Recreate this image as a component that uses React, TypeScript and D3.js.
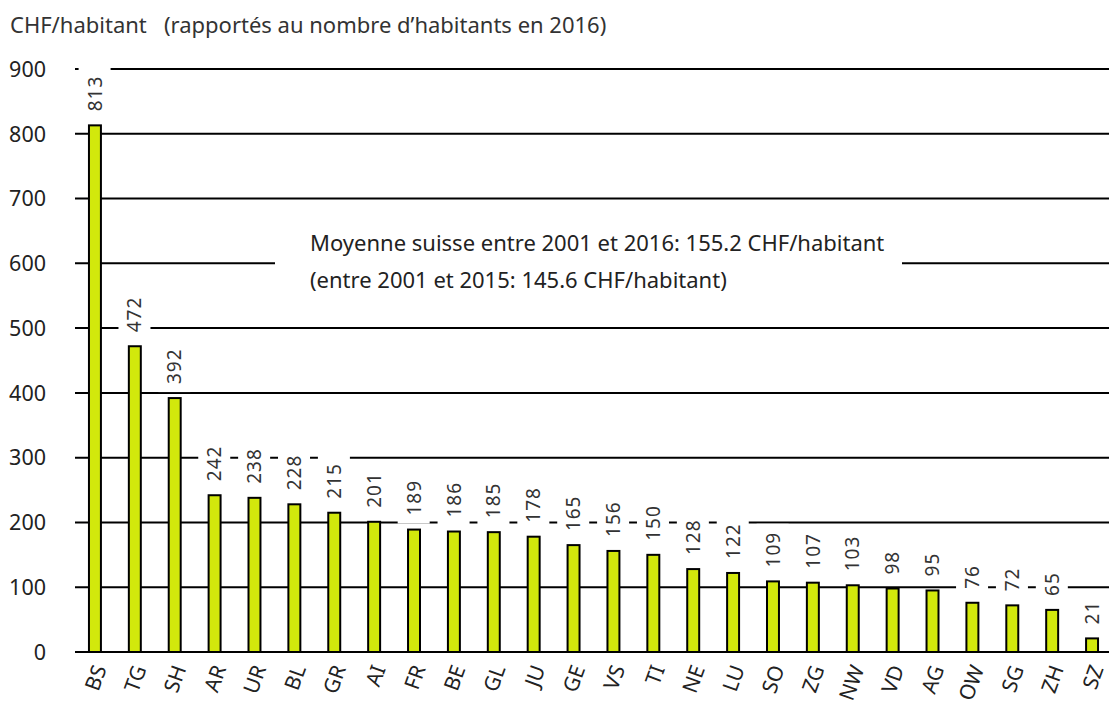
import React, { useEffect, useRef } from "react";
import * as d3 from "d3";

const cantons = ["BS","TG","SH","AR","UR","BL","GR","AI","FR","BE","GL","JU","GE","VS","TI","NE","LU","SO","ZG","NW","VD","AG","OW","SG","ZH","SZ"];
const values = [813,472,392,242,238,228,215,201,189,186,185,178,165,156,150,128,122,109,107,103,98,95,76,72,65,21];
const yTicks = [0,100,200,300,400,500,600,700,800,900];
const titleText = "CHF/habitant   (rapportés au nombre d’habitants en 2016)";
const noteLines = ["Moyenne suisse entre 2001 et 2016: 155.2 CHF/habitant", "(entre 2001 et 2015: 145.6 CHF/habitant)"];

const W = 1109, H = 702;
const FONT = "'Noto Sans', 'Open Sans', sans-serif";

export default function App() {
  const ref = useRef<SVGSVGElement>(null);
  useEffect(() => {
    const svg = d3.select(ref.current);
    svg.selectAll("*").remove();
    const x = d3.scaleBand<string>().domain(cantons).range([75, 1112]).paddingInner(0.7).paddingOuter(0.35);
    const y = d3.scaleLinear().domain([0, 900]).range([652, 69]);

    svg.append("text").attr("x", 10).attr("y", 33).attr("font-family", FONT).attr("font-size", 22)
      .attr("fill", "#333").style("white-space", "pre").text(titleText);

    // gridlines
    svg.append("g").selectAll("line").data(yTicks).join("line")
      .attr("x1", 75).attr("x2", W).attr("y1", d => y(d)).attr("y2", d => y(d))
      .attr("stroke", "#000").attr("stroke-width", 2);

    svg.append("g").selectAll("text").data(yTicks).join("text")
      .attr("x", 46).attr("y", d => y(d)).attr("dy", "0.36em").attr("text-anchor", "end")
      .attr("font-family", FONT).attr("font-size", 21.5).attr("fill", "#222").text(d => d);

    // annotation
    svg.append("rect").attr("x", 275).attr("y", 228).attr("width", 627).attr("height", 72).attr("fill", "#fff");
    const note = svg.append("text").attr("font-family", FONT).attr("font-size", 22).attr("fill", "#222");
    noteLines.forEach((t, i) => note.append("tspan").attr("x", 310).attr("y", 251 + i * 37).text(t));

    // value labels
    const gap = 14, padAlong = 8, padAcross = 3;
    const lab = svg.append("g").selectAll("g").data(values).join("g")
      .attr("transform", (d, i) => `translate(${x(cantons[i])! + x.bandwidth() / 2},${y(d) - gap}) rotate(-90)`);
    lab.append("rect").attr("fill", "#fff");
    lab.append("text").attr("x", 0).attr("y", 0).attr("dy", "0.35em").attr("font-family", FONT)
      .attr("font-size", 19).attr("letter-spacing", 1).attr("fill", "#333").text(d => d);
    lab.each(function () {
      const g = d3.select(this);
      const bb = (g.select("text").node() as SVGTextElement).getBBox();
      g.select("rect").attr("x", bb.x - padAlong).attr("y", bb.y - padAcross)
        .attr("width", bb.width + 2 * padAlong).attr("height", bb.height + 2 * padAcross);
    });

    // bars
    svg.append("g").selectAll("rect").data(values).join("rect")
      .attr("x", (d, i) => x(cantons[i])!).attr("width", x.bandwidth())
      .attr("y", d => y(d)).attr("height", d => y(0) - y(d))
      .attr("fill", "#d2e80c").attr("stroke", "#000").attr("stroke-width", 2);

    // x labels
    svg.append("g").selectAll("text").data(cantons).join("text")
      .attr("transform", d => `translate(${x(d)! + x.bandwidth() / 2 + 5},${666}) rotate(-70)`)
      .attr("text-anchor", "end").attr("dy", "0.35em").attr("font-family", FONT).attr("font-size", 21)
      .attr("fill", "#222").text(d => d);
  }, []);
  return <svg ref={ref} width={W} height={H} style={{ display: "block", position: "absolute", left: 0, top: 0 }} />;
}
